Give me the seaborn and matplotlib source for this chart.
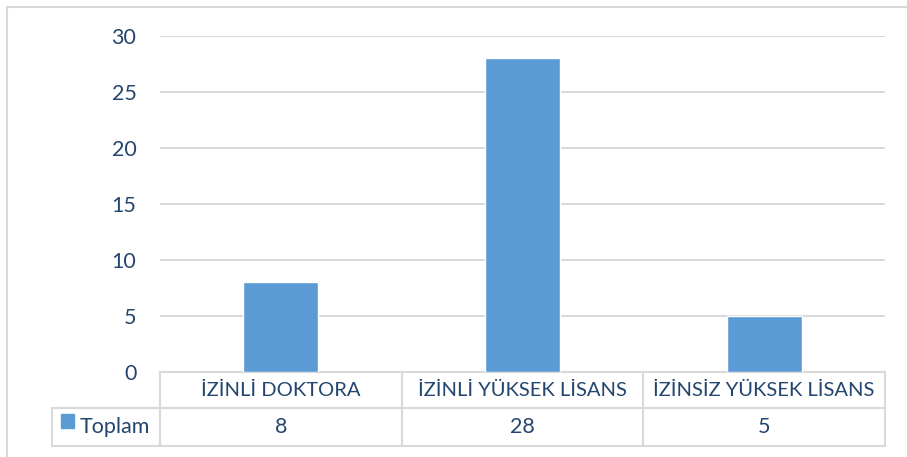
import matplotlib
matplotlib.use("Agg")
import matplotlib.pyplot as plt
from matplotlib.lines import Line2D
import matplotlib.transforms as mtransforms
import seaborn as sns
import pandas as pd

# veri
kategoriler = ["İZİNLİ DOKTORA", "İZİNLİ YÜKSEK LİSANS", "İZİNSİZ YÜKSEK LİSANS"]
toplam = [8, 28, 5]
seri_adi = "Toplam"
y_ticks = [0, 5, 10, 15, 20, 25, 30]

bar_renk = "#5B9BD5"
yazi_renk = "#23466E"
cizgi_renk = "#D9D9D9"

sns.set_theme(style="white")
plt.rcParams["font.family"] = ["Lato", "DejaVu Sans"]

df = pd.DataFrame({"kategori": kategoriler, "deger": toplam})

fig = plt.figure(figsize=(9.07, 4.57), dpi=100)
W, H = 907, 457
ax = fig.add_axes([160 / W, 1 - 372 / H, (885 - 160) / W, (372 - 36) / H])

sns.barplot(data=df, x="kategori", y="deger", color=bar_renk, width=0.31,
            saturation=1, ax=ax, zorder=3)

ax.set_xlim(-0.5, len(kategoriler) - 0.5)
ax.set_ylim(0, 30)
ax.set_yticks(y_ticks)
ax.set_yticklabels([str(t) for t in y_ticks], fontsize=15.5, color=yazi_renk)
ax.tick_params(axis="y", length=0, pad=17)
ax.set_xticks([])
ax.set_xlabel("")
ax.set_ylabel("")
for s in ax.spines.values():
    s.set_visible(False)
ax.grid(axis="y", color=cizgi_renk, linewidth=1.5, zorder=0)
ax.set_axisbelow(True)

# veri tablosu
tr = mtransforms.blended_transform_factory(ax.transData, ax.transAxes)
h1 = -(408 - 372) / 336
h2 = -(446 - 372) / 336
sol = -0.5 - 108 / (725 / 3)
n = len(kategoriler)
lw = 1.5
kw = dict(color=cizgi_renk, linewidth=lw, transform=tr, clip_on=False, zorder=1)
ax.add_line(Line2D([-0.5, n - 0.5], [0, 0], **kw))
ax.add_line(Line2D([sol, n - 0.5], [h1, h1], **kw))
ax.add_line(Line2D([sol, n - 0.5], [h2, h2], **kw))
ax.add_line(Line2D([sol, sol], [h1, h2], **kw))
for i in range(n + 1):
    ax.add_line(Line2D([i - 0.5, i - 0.5], [0, h2], **kw))

for i, (k, v) in enumerate(zip(kategoriler, toplam)):
    ax.text(i, h1 / 2, k, transform=tr, ha="center", va="center",
            fontsize=14.5, color=yazi_renk)
    ax.text(i, (h1 + h2) / 2, str(v), transform=tr, ha="center", va="center",
            fontsize=15.5, color=yazi_renk)

# lejant hücresi
ax.add_patch(plt.Rectangle((61 / W, 1 - 428 / H), 13 / W, 14 / H,
                           transform=fig.transFigure, color=bar_renk, clip_on=False))
fig.text(80 / W, (h1 + h2) / 2 * 336 / H + (1 - 372 / H), seri_adi,
         ha="left", va="center", fontsize=15.5, color=yazi_renk)

# grafik çerçevesi
fig.add_artist(Line2D([7 / W, 1], [1 - 7 / H, 1 - 7 / H], color=cizgi_renk,
                      linewidth=1.5, transform=fig.transFigure))
fig.add_artist(Line2D([7 / W, 7 / W], [0, 1 - 7 / H], color=cizgi_renk,
                      linewidth=1.5, transform=fig.transFigure))

fig.savefig("out.png", dpi=100, facecolor="white")
